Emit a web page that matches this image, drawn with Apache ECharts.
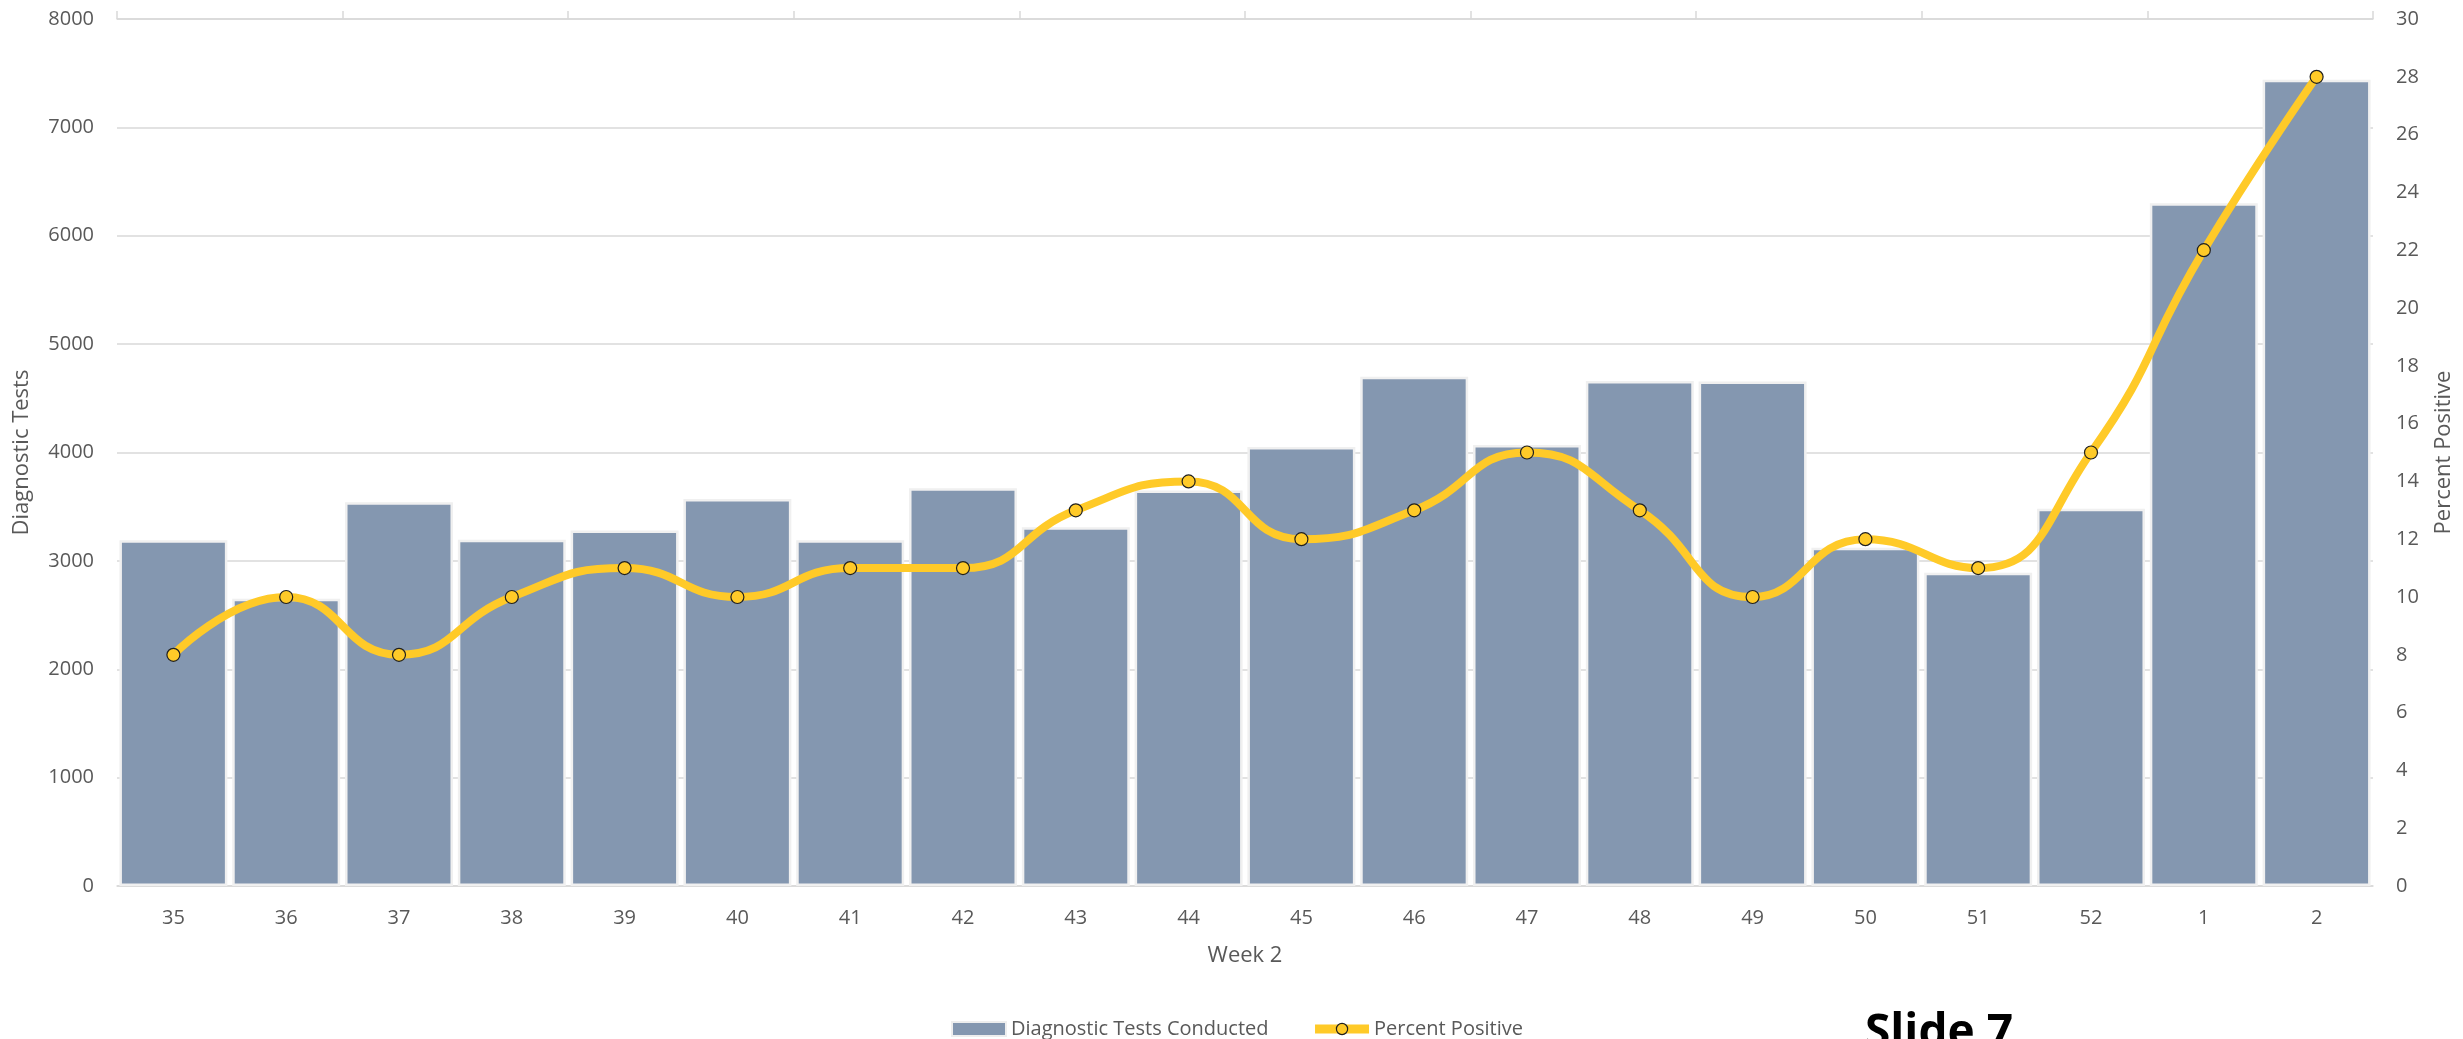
<!DOCTYPE html>
<html>
<head>
<meta charset="utf-8">
<script src="https://cdn.jsdelivr.net/npm/echarts@6/dist/echarts.min.js"></script>
<style>
html,body{margin:0;padding:0;background:#fff;}
#chart{width:2463px;height:1039px;}
</style>
</head>
<body>
<div id="chart"></div>
<script>
const weeks = ['35','36','37','38','39','40','41','42','43','44','45','46','47','48','49','50','51','52','1','2'];
const testsConducted = [3190,2650,3540,3195,3280,3570,3190,3670,3310,3650,4050,4700,4070,4660,4655,3120,2890,3480,6300,7440];
const percentPositive = [8,10,8,10,11,10,11,11,13,14,12,13,15,13,10,12,11,15,22,28];
const leftTicks = {min:0, max:8000, interval:1000};
const rightTicks = {min:0, max:30, interval:2};
const topTicks = {min:0, max:20, interval:2};

const FONT = '"Open Sans", "Noto Sans", sans-serif';
const TXT = '#595959';
const GRID = '#d9d9d9';
const BAR = '#8497b0';
const LINE = '#ffca28';

const chart = echarts.init(document.getElementById('chart'), null, {renderer:'canvas'});
chart.setOption({
  animation:false,
  backgroundColor:'#ffffff',
  textStyle:{fontFamily:FONT},
  grid:{left:117, right:89, top:19, bottom:153, containLabel:false},
  legend:{
    left:946, top:1014,
    itemWidth:54, itemHeight:14, itemGap:42,
    textStyle:{color:TXT, fontSize:20, fontFamily:FONT},
    data:[
      {name:'Diagnostic Tests Conducted', icon:'rect', itemStyle:{color:BAR, borderColor:'#eeeeee', borderWidth:2}},
      {name:'Percent Positive', lineStyle:{width:9, color:LINE}, itemStyle:{color:LINE, borderColor:'#1f1f1f', borderWidth:1.2}}
    ]
  },
  xAxis:[
    {
      type:'category', data:weeks, position:'bottom',
      name:'Week 2', nameLocation:'middle', nameGap:59,
      nameTextStyle:{color:TXT, fontSize:22, fontFamily:FONT},
      axisLine:{show:true, lineStyle:{color:GRID, width:1.5}},
      axisTick:{show:false},
      axisLabel:{color:TXT, fontSize:20, margin:22, fontFamily:FONT},
      splitLine:{show:false}
    },
    {
      type:'value', position:'top', min:topTicks.min, max:topTicks.max, interval:topTicks.interval,
      axisLine:{show:true, onZero:false, lineStyle:{color:GRID, width:1.5}},
      axisTick:{show:true, inside:false, length:8, lineStyle:{color:GRID, width:1.5}},
      axisLabel:{show:false},
      splitLine:{show:false}
    }
  ],
  yAxis:[
    {
      type:'value', min:leftTicks.min, max:leftTicks.max, interval:leftTicks.interval,
      name:'Diagnostic Tests', nameLocation:'middle', nameGap:84,
      nameTextStyle:{color:TXT, fontSize:22, fontFamily:FONT},
      axisLine:{show:false}, axisTick:{show:false},
      axisLabel:{color:TXT, fontSize:20, margin:23, fontFamily:FONT, formatter:(v)=>String(v)},
      splitLine:{show:true, lineStyle:{color:GRID, width:1.5}}
    },
    {
      type:'value', min:rightTicks.min, max:rightTicks.max, interval:rightTicks.interval,
      name:'Percent Positive', nameLocation:'middle', nameGap:60, nameRotate:90,
      nameTextStyle:{color:TXT, fontSize:22, fontFamily:FONT},
      axisLine:{show:false}, axisTick:{show:false},
      axisLabel:{color:TXT, fontSize:20, margin:23, fontFamily:FONT, formatter:(v)=>String(v)},
      splitLine:{show:false}
    }
  ],
  series:[
    {
      name:'Diagnostic Tests Conducted', type:'bar', data:testsConducted,
      xAxisIndex:0, yAxisIndex:0,
      barCategoryGap:'4.3%',
      itemStyle:{color:BAR, borderColor:'#f0f0f0', borderWidth:2.5},
      z:2
    },
    {
      name:'Percent Positive', type:'line', data:percentPositive,
      xAxisIndex:0, yAxisIndex:1,
      smooth:0.5,
      symbol:'circle', symbolSize:13,
      lineStyle:{color:LINE, width:8},
      itemStyle:{color:LINE, borderColor:'#1f1f1f', borderWidth:1.2},
      z:5
    }
  ],
  graphic:[
    {
      type:'text', left:1865, top:1011,
      style:{text:'Slide 7', fill:'#000000', font:'bold 46px ' + FONT}
    }
  ]
});
</script>
</body>
</html>
